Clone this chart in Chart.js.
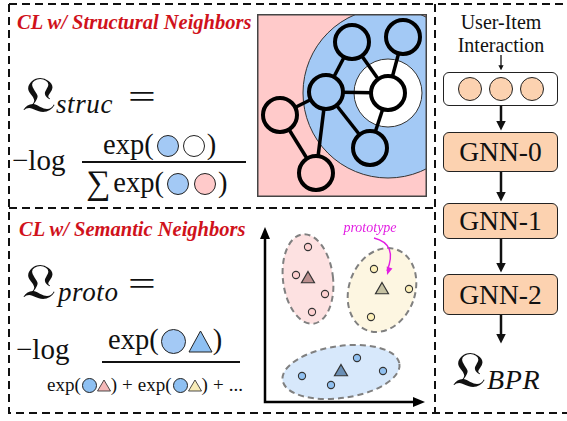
<!DOCTYPE html>
<html>
<head>
<meta charset="utf-8">
<script src="https://cdn.jsdelivr.net/npm/chart.js@4.4.1/dist/chart.umd.min.js"></script>
<style>
body { margin: 0; background: #fff; }
#page { position: relative; width: 567px; height: 421px; overflow: hidden; font-family: "Liberation Serif", "DejaVu Serif", serif; color: #111; }
.t { position: absolute; white-space: nowrap; line-height: 1; }
.it { font-style: italic; letter-spacing: 0.6px; }
.title { font-weight: bold; font-style: italic; color: #d0121b; font-size: 20.5px; }
.frak { font-family: "DejaVu Serif", "DejaVu Sans", serif; transform: scale(1.25, 1.08); transform-origin: left top; }
.eq { transform: scaleX(1.45); transform-origin: left top; }
.c { display: inline-block; border: 1px solid #222; border-radius: 50%; box-sizing: border-box; }
.bar { position: absolute; height: 2px; background: #111; }
.box { position: absolute; box-sizing: border-box; border: 1.5px solid #222; border-radius: 6px; }
.gnn { background: #fcd2b0; font-size: 27.5px; text-align: center; }
.op { margin: 0 5px; }
canvas { position: absolute; }
</style>
</head>
<body>
<div id="page">
  <svg width="567" height="421" style="position:absolute;left:0;top:0">
    <g stroke="#111" stroke-width="2" stroke-dasharray="8 5" fill="none">
      <path d="M9 4 H567"/>
      <path d="M9 4 V413 H567"/>
      <path d="M435 4 V413"/>
      <path d="M9 208 H435"/>
    </g>
    <defs>
      <marker id="ah" markerWidth="4" markerHeight="4" refX="2.2" refY="2" orient="auto" markerUnits="strokeWidth">
        <path d="M0 0 L4 2 L0 4 Z" fill="#111"/>
      </marker>
    </defs>
    <g stroke="#111" fill="none">
      <path d="M501 55 V68" stroke-width="1.3" marker-end="url(#ah)"/>
      <path d="M501 106 V126" stroke-width="2.5" marker-end="url(#ah)"/>
      <path d="M501 172 V197" stroke-width="2.5" marker-end="url(#ah)"/>
      <path d="M501 238 V268" stroke-width="2.5" marker-end="url(#ah)"/>
      <path d="M501 315 V339" stroke-width="2.5" marker-end="url(#ah)"/>
    </g>
  </svg>

  <div class="t title" style="left:17px;top:12px">CL w/ Structural Neighbors</div>
  <div class="t frak" style="left:22px;top:70px;font-size:46px">𝔏</div>
  <div class="t it" style="left:56px;top:91px;font-size:27px">struc</div>
  <div class="t eq" style="left:128px;top:80px;font-size:34px">=</div>
  <div class="t" style="left:12px;top:146px;font-size:29px">−log</div>
  <div class="t" style="left:103px;top:131px;font-size:28.5px">exp(<span class="c" style="width:22px;height:22px;background:#a3c9f5;vertical-align:-3px;margin:0 2px 0 3px"></span><span class="c" style="width:22px;height:22px;background:#fff;vertical-align:-3px;margin:0 2px"></span>)</div>
  <div class="bar" style="left:82px;top:161px;width:164px"></div>
  <div class="t" style="left:86px;top:166px;font-size:28.5px"><span style="font-size:34px;vertical-align:-2px">∑</span><span style="margin-left:3px">exp(</span><span class="c" style="width:22px;height:22px;background:#a3c9f5;vertical-align:-3px;margin:0 3px 0 3px"></span><span class="c" style="width:22px;height:22px;background:#ffcaca;vertical-align:-3px;margin:0 2px"></span>)</div>

  <div class="t title" style="left:19px;top:219px">CL w/ Semantic Neighbors</div>
  <div class="t frak" style="left:22px;top:257px;font-size:46px">𝔏</div>
  <div class="t it" style="left:58px;top:279px;font-size:27px">proto</div>
  <div class="t eq" style="left:128px;top:267px;font-size:34px">=</div>
  <div class="t" style="left:16px;top:335px;font-size:29px">−log</div>
  <div class="t" style="left:108px;top:326px;font-size:28.5px">exp(<span class="c" style="width:25px;height:25px;background:#a3c9f5;vertical-align:-5px;margin:0 2px"></span><svg width="25" height="23" style="vertical-align:-4px"><path d="M12.5 1 L24 22 L1 22 Z" fill="#8ec0f2" stroke="#222" stroke-width="1"/></svg>)</div>
  <div class="bar" style="left:102px;top:361px;width:138px"></div>
  <div class="t" style="left:47px;top:375px;font-size:19px">exp(<span class="c" style="width:15px;height:15px;background:#8ec0f2;vertical-align:-2px;margin-left:1px"></span><svg width="14" height="13" style="vertical-align:-1px"><path d="M7 1 L13.5 12 L0.5 12 Z" fill="#f4b8b8" stroke="#222" stroke-width="0.8"/></svg>)<span class="op">+</span>exp(<span class="c" style="width:15px;height:15px;background:#8ec0f2;vertical-align:-2px;margin-left:1px"></span><svg width="14" height="13" style="vertical-align:-1px"><path d="M7 1 L13.5 12 L0.5 12 Z" fill="#f8ecb8" stroke="#222" stroke-width="0.8"/></svg>)<span class="op">+</span>...</div>

  <div class="t" style="left:435px;top:12px;width:132px;text-align:center;font-size:20px">User-Item</div>
  <div class="t" style="left:435px;top:35px;width:132px;text-align:center;font-size:20px">Interaction</div>
  <div class="box" style="left:443px;top:72px;width:115px;height:34px;background:#fff;padding-top:4px;text-align:center">
    <span class="c" style="width:24px;height:24px;background:#fcd2b0;margin:0 3.5px"></span><span class="c" style="width:24px;height:24px;background:#fcd2b0;margin:0 3.5px"></span><span class="c" style="width:24px;height:24px;background:#fcd2b0;margin:0 3.5px"></span>
  </div>
  <div class="box gnn" style="left:443px;top:132px;width:115px;height:40px;line-height:38px">GNN-0</div>
  <div class="box gnn" style="left:443px;top:203px;width:115px;height:36px;line-height:34px">GNN-1</div>
  <div class="box gnn" style="left:443px;top:274px;width:115px;height:41px;line-height:39px">GNN-2</div>
  <div class="t frak" style="left:452px;top:345px;font-size:46px">𝔏</div>
  <div class="t it" style="left:487px;top:366px;font-size:28px">BPR</div>

  <canvas id="graph" width="170" height="183" style="left:257px;top:14px"></canvas>
  <canvas id="semantic" width="180" height="195" style="left:255px;top:215px"></canvas>
</div>

<script>
// structural neighbours graph, node positions in graph units
const nodeX = [9.5, 14.6, 6.9, 13.1, 11.3, 2.3, 5.9];
const nodeY = [15.5, 16.0, 10.5, 10.4, 4.9, 8.2, 2.4];
const nodeKind = ['near', 'near', 'near', 'anchor', 'near', 'far', 'far'];
const edges = [[2, 0], [2, 3], [2, 5], [2, 6], [2, 4], [0, 3], [1, 3], [3, 4], [5, 6]];
const neighbourRadius = 8.5;
const anchorRingRadius = 3.4;

// semantic neighbours scatter
const pinkX = [5.3, 4.1, 7.0, 5.7];
const pinkY = [16.3, 13.5, 11.6, 9.8];
const yellowX = [11.9, 15.4, 11.6];
const yellowY = [14.1, 12.1, 9.3];
const blueX = [4.7, 7.6, 10.2, 12.8];
const blueY = [3.4, 2.5, 5.2, 3.9];
const protoX = [5.3, 12.7, 8.6];
const protoY = [13.1, 12.0, 3.8];

const BLUE = '#a3c9f5';
const PINK = '#ffcaca';
const SERIF = '"Liberation Serif", "DejaVu Serif", serif';

function pts(xs, ys) {
  return xs.map((v, i) => ({ x: v, y: ys[i] }))
}

const hiddenScales = (xmax, ymax) => ({
  x: { type: 'linear', min: 0, max: xmax, display: false },
  y: { type: 'linear', min: 0, max: ymax, display: false }
})

const graphBackground = {
  id: 'graphBackground',
  beforeDatasetsDraw(chart) {
    const { ctx, chartArea: a, scales: { x, y } } = chart;
    const ax = x.getPixelForValue(nodeX[3]);
    const ay = y.getPixelForValue(nodeY[3]);
    const r1 = x.getPixelForValue(nodeX[3] + neighbourRadius) - ax;
    const r2 = x.getPixelForValue(nodeX[3] + anchorRingRadius) - ax;
    ctx.save();
    ctx.fillStyle = PINK;
    ctx.fillRect(a.left, a.top, a.width, a.height);
    ctx.beginPath();
    ctx.rect(a.left, a.top, a.width, a.height);
    ctx.clip();
    ctx.beginPath();
    ctx.arc(ax, ay, r1, 0, Math.PI * 2);
    ctx.fillStyle = BLUE;
    ctx.fill();
    ctx.lineWidth = 1;
    ctx.strokeStyle = '#333';
    ctx.stroke();
    ctx.beginPath();
    ctx.arc(ax, ay, r2, 0, Math.PI * 2);
    ctx.fillStyle = '#fff';
    ctx.fill();
    ctx.stroke();
    ctx.restore();
  },
  afterDraw(chart) {
    const { ctx, chartArea: a } = chart;
    ctx.save();
    ctx.lineWidth = 1.5;
    ctx.strokeStyle = '#444';
    ctx.strokeRect(a.left + 0.75, a.top + 0.75, a.width - 1.5, a.height - 1.5);
    ctx.restore();
  }
}

const nodes = pts(nodeX, nodeY);
const graphDatasets = [{
  type: 'scatter',
  data: nodes,
  pointRadius: 17,
  pointBorderWidth: 4,
  pointBorderColor: '#000',
  pointBackgroundColor: nodeKind.map(k => k == 'anchor' ? '#fff' : k == 'near' ? BLUE : PINK)
}];
edges.forEach(e => {
  graphDatasets.push({
    type: 'line',
    data: [nodes[e[0]], nodes[e[1]]],
    borderColor: '#000',
    borderWidth: 3.5,
    pointRadius: 0
  })
})

new Chart(document.getElementById('graph'), {
  type: 'scatter',
  data: { datasets: graphDatasets },
  options: {
    responsive: false,
    animation: false,
    clip: false,
    layout: { padding: 0, autoPadding: false },
    scales: hiddenScales(17, 18.3),
    plugins: { legend: { display: false }, tooltip: { enabled: false } }
  },
  plugins: [graphBackground]
})

// cluster regions drawn round each prototype
const clusters = [
  { at: 0, rx: 2.5, ry: 4.5, rot: -7, fill: '#fde1e1' },
  { at: 1, rx: 3.3, ry: 4.3, rot: 20, fill: '#fdf6e1' },
  { at: 2, rx: 5.9, ry: 2.6, rot: -8, fill: '#d7e8fb' }
];

function arrowHead(ctx, x, y, ang, len, wid) {
  ctx.save();
  ctx.translate(x, y);
  ctx.rotate(ang);
  ctx.beginPath();
  ctx.moveTo(0, 0);
  ctx.lineTo(-len, -wid / 2);
  ctx.lineTo(-len, wid / 2);
  ctx.closePath();
  ctx.fill();
  ctx.restore();
}

const semanticExtras = {
  id: 'semanticExtras',
  beforeDatasetsDraw(chart) {
    const { ctx, scales: { x, y } } = chart;
    clusters.forEach(c => {
      const cx = x.getPixelForValue(protoX[c.at]);
      const cy = y.getPixelForValue(protoY[c.at]);
      const rx = x.getPixelForValue(protoX[c.at] + c.rx) - cx;
      const ry = cy - y.getPixelForValue(protoY[c.at] + c.ry);
      ctx.save();
      ctx.beginPath();
      ctx.ellipse(cx, cy, rx, ry, c.rot * Math.PI / 180, 0, Math.PI * 2);
      ctx.fillStyle = c.fill;
      ctx.fill();
      ctx.setLineDash([6, 4]);
      ctx.lineWidth = 2;
      ctx.strokeStyle = '#808080';
      ctx.stroke();
      ctx.restore();
    });
    // axes with arrow heads
    const ox = x.getPixelForValue(1), oy = y.getPixelForValue(0.8);
    const tx = x.getPixelForValue(17), ty = y.getPixelForValue(18.3);
    ctx.save();
    ctx.strokeStyle = '#000';
    ctx.fillStyle = '#000';
    ctx.lineWidth = 2.5;
    ctx.beginPath();
    ctx.moveTo(ox, ty + 8);
    ctx.lineTo(ox, oy);
    ctx.lineTo(tx - 8, oy);
    ctx.stroke();
    arrowHead(ctx, ox, ty, -Math.PI / 2, 12, 10);
    arrowHead(ctx, tx, oy, 0, 12, 10);
    ctx.restore();
  },
  afterDatasetsDraw(chart) {
    const { ctx, scales: { x, y } } = chart;
    const lx = x.getPixelForValue(11.5), ly = y.getPixelForValue(18.2);
    ctx.save();
    ctx.fillStyle = '#e21ee2';
    ctx.strokeStyle = '#e21ee2';
    ctx.font = 'italic 14px ' + SERIF;
    ctx.textAlign = 'center';
    ctx.textBaseline = 'middle';
    ctx.fillText('prototype', lx, ly);
    const sx = x.getPixelForValue(11.9), sy = y.getPixelForValue(17.2);
    const ex = x.getPixelForValue(13.2), ey = y.getPixelForValue(13.5);
    ctx.lineWidth = 1.4;
    ctx.beginPath();
    ctx.moveTo(sx, sy);
    ctx.quadraticCurveTo(sx + 24, sy + 6, ex, ey - 4);
    ctx.stroke();
    arrowHead(ctx, ex, ey, 1.9, 8, 6);
    ctx.restore();
  }
}

const dot = (data, fill) => ({
  data: data,
  pointRadius: 3.6,
  pointBorderWidth: 1.1,
  pointBorderColor: '#333',
  pointBackgroundColor: fill
})

new Chart(document.getElementById('semantic'), {
  type: 'scatter',
  data: {
    datasets: [
      {
        data: pts(protoX, protoY),
        pointStyle: 'triangle',
        pointRadius: 7.5,
        pointBorderWidth: 1.2,
        pointBorderColor: '#333',
        pointBackgroundColor: ['#bb8f8f', '#c5c1a2', '#6b8fb5']
      },
      dot(pts(pinkX, pinkY), '#fdd0d0'),
      dot(pts(yellowX, yellowY), '#fdf0b8'),
      dot(pts(blueX, blueY), '#90c0f0')
    ]
  },
  options: {
    responsive: false,
    animation: false,
    layout: { padding: 0, autoPadding: false },
    scales: hiddenScales(18, 19.5),
    plugins: { legend: { display: false }, tooltip: { enabled: false } }
  },
  plugins: [semanticExtras]
})
</script>
</body>
</html>
